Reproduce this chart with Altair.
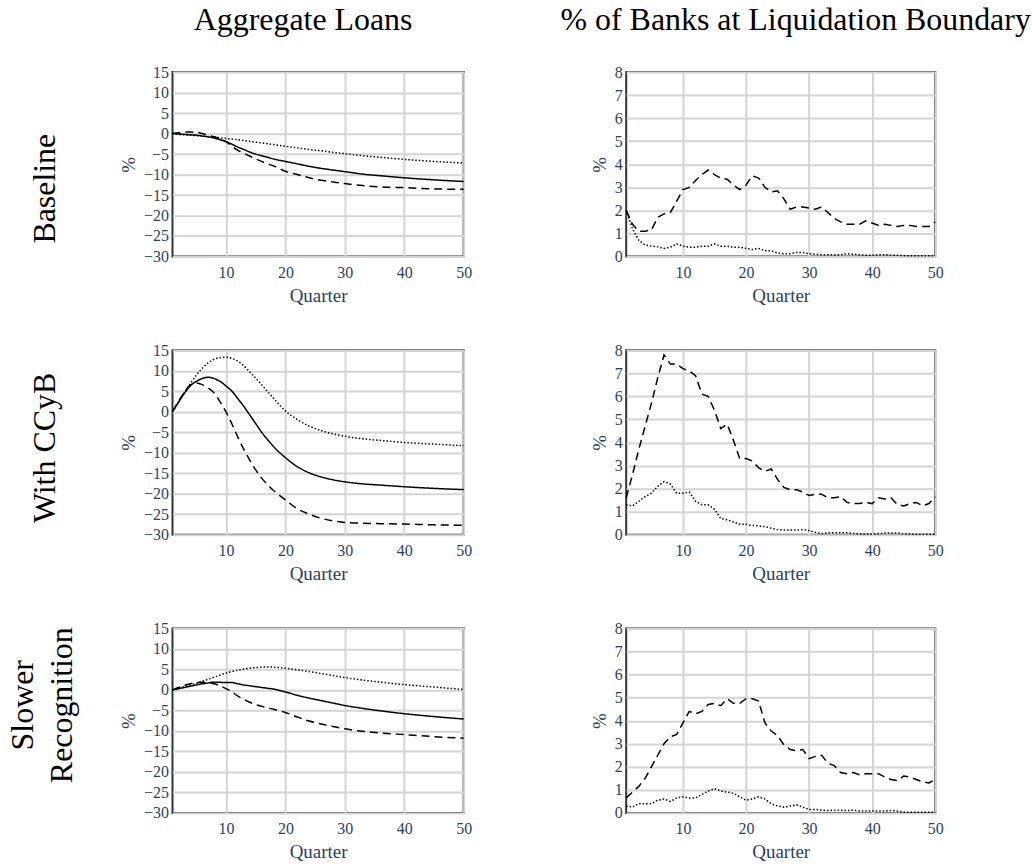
import altair as alt
import pandas as pd

FONT = "Liberation Serif"
LABEL_COLOR = "#2a3f5f"

series_names = ["Series 1", "Series 2", "Series 3"]

# x values
quarters = list(range(1, 51))
quarters_smooth = [1, 2, 3, 4, 5, 6, 7, 8, 9, 10, 11, 12, 13, 14, 15, 16, 17, 18,
                   20, 22, 24, 26, 28, 30, 33, 36, 40, 45, 50]

# tick labels
x_ticks = [10, 20, 30, 40, 50]
loans_ticks = [-30, -25, -20, -15, -10, -5, 0, 5, 10, 15]
liq_ticks = [0, 1, 2, 3, 4, 5, 6, 7, 8]

# ---- Aggregate loans (%) ----
base_loans_s1 = [0, -0.1, -0.2, -0.3, -0.4, -0.6, -0.8, -1.1, -1.5, -2.0, -2.6, -3.3, -3.9, -4.5,
                 -5.0, -5.4, -5.8, -6.2, -6.8, -7.4, -8.0, -8.5, -8.9, -9.3, -9.9, -10.3, -10.8,
                 -11.3, -11.7]
base_loans_s2 = [0, 0.2, 0.35, 0.35, 0.3, 0.0, -0.4, -0.8, -1.3, -2.0, -3.1, -4.1, -4.8, -5.5,
                 -6.2, -6.8, -7.4, -7.9, -9.2, -10.0, -10.8, -11.4, -11.8, -12.2, -12.7, -13.0,
                 -13.2, -13.5, -13.6]
base_loans_s3 = [0, -0.2, -0.3, -0.4, -0.5, -0.6, -0.75, -0.9, -1.05, -1.2, -1.35, -1.5, -1.7,
                 -1.9, -2.1, -2.3, -2.5, -2.7, -3.1, -3.5, -3.9, -4.2, -4.6, -4.9, -5.4, -5.8,
                 -6.3, -6.8, -7.2]

ccyb_loans_s1 = [0, 2.3, 4.5, 6.3, 7.4, 8.1, 8.4, 8.1, 7.4, 6.3, 5.0, 3.2, 1.3, -0.8, -2.9, -5.0,
                 -6.8, -8.5, -11.2, -13.4, -14.9, -15.9, -16.6, -17.1, -17.6, -17.9, -18.3,
                 -18.7, -19.0]
ccyb_loans_s2 = [0, 2.5, 4.8, 6.5, 7.0, 6.6, 5.8, 4.6, 2.4, 0.0, -3.0, -6.2, -9.2, -11.8, -14.2,
                 -16.2, -17.8, -19.2, -21.5, -23.7, -25.0, -26.0, -26.6, -27.0, -27.2, -27.3,
                 -27.4, -27.6, -27.7]
ccyb_loans_s3 = [0, 2.4, 4.7, 6.9, 8.9, 10.6, 11.9, 12.8, 13.2, 13.3, 13.0, 12.3, 11.2, 9.7, 8.2,
                 6.6, 4.9, 3.3, 0.2, -1.9, -3.5, -4.6, -5.4, -6.0, -6.6, -7.0, -7.5, -7.9, -8.3]

slow_loans_s1 = [0, 0.3, 0.6, 0.9, 1.2, 1.5, 1.7, 1.9, 1.85, 1.8, 1.8, 1.5, 1.2, 1.0, 0.8, 0.6,
                 0.4, 0.2, -0.5, -1.3, -2.0, -2.6, -3.2, -3.8, -4.5, -5.1, -5.8, -6.5, -7.1]
slow_loans_s2 = [0, 0.6, 1.1, 1.5, 1.8, 1.9, 1.8, 1.5, 1.0, 0.3, -0.5, -1.5, -2.3, -3.0, -3.6,
                 -4.0, -4.4, -4.7, -5.5, -6.6, -7.6, -8.3, -8.9, -9.5, -10.1, -10.5, -10.9,
                 -11.4, -11.8]
slow_loans_s3 = [0, 0.4, 0.8, 1.2, 1.6, 2.1, 2.6, 3.1, 3.6, 4.1, 4.5, 4.8, 5.1, 5.3, 5.45, 5.55,
                 5.6, 5.55, 5.3, 4.9, 4.5, 4.0, 3.5, 3.0, 2.4, 1.9, 1.3, 0.7, 0.1]

# ---- % of banks at liquidation boundary ----
base_liq_s2 = [2.0, 1.4, 1.1, 1.1, 1.15, 1.7, 1.85, 1.9, 2.4, 2.9,
               3.0, 3.3, 3.55, 3.75, 3.55, 3.4, 3.35, 3.1, 2.9, 3.1,
               3.5, 3.4, 3.0, 2.8, 2.85, 2.5, 2.05, 2.15, 2.15, 2.1,
               2.05, 2.15, 1.9, 1.65, 1.5, 1.4, 1.4, 1.4, 1.55, 1.45,
               1.35, 1.4, 1.35, 1.3, 1.35, 1.35, 1.3, 1.3, 1.3, 1.5]
base_liq_s3 = [2.0, 1.2, 0.7, 0.5, 0.45, 0.42, 0.35, 0.4, 0.55, 0.45,
               0.4, 0.4, 0.45, 0.45, 0.55, 0.45, 0.45, 0.4, 0.4, 0.35,
               0.3, 0.35, 0.25, 0.25, 0.15, 0.12, 0.12, 0.18, 0.17, 0.12,
               0.1, 0.08, 0.08, 0.07, 0.08, 0.12, 0.1, 0.08, 0.05, 0.05,
               0.08, 0.08, 0.06, 0.05, 0.04, 0.03, 0.03, 0.03, 0.03, 0.03]

ccyb_liq_s2 = [1.6, 2.6, 3.7, 4.7, 5.7, 6.8, 7.8, 7.4, 7.4, 7.2,
               7.1, 6.9, 6.1, 6.0, 5.4, 4.6, 4.8, 4.1, 3.3, 3.3,
               3.2, 2.9, 2.75, 2.85, 2.4, 2.05, 1.95, 1.95, 1.85, 1.7,
               1.75, 1.75, 1.6, 1.6, 1.65, 1.4, 1.35, 1.35, 1.4, 1.35,
               1.6, 1.55, 1.6, 1.3, 1.25, 1.35, 1.4, 1.25, 1.35, 1.65]
ccyb_liq_s3 = [1.3, 1.25, 1.45, 1.65, 1.8, 2.1, 2.3, 2.2, 1.8, 1.8,
               1.85, 1.45, 1.3, 1.3, 1.1, 0.7, 0.65, 0.55, 0.45, 0.45,
               0.4, 0.38, 0.35, 0.28, 0.22, 0.2, 0.2, 0.2, 0.22, 0.18,
               0.1, 0.05, 0.08, 0.08, 0.08, 0.08, 0.06, 0.04, 0.03, 0.03,
               0.05, 0.07, 0.07, 0.07, 0.04, 0.03, 0.02, 0.02, 0.02, 0.02]

slow_liq_s2 = [0.65, 0.9, 1.15, 1.5, 2.0, 2.5, 3.0, 3.3, 3.4, 3.9,
               4.4, 4.3, 4.4, 4.7, 4.75, 4.65, 4.95, 4.75, 4.75, 4.95,
               4.95, 4.85, 3.9, 3.55, 3.35, 2.95, 2.75, 2.7, 2.75, 2.35,
               2.45, 2.5, 2.15, 2.05, 1.75, 1.7, 1.75, 1.65, 1.7, 1.7,
               1.7, 1.55, 1.45, 1.4, 1.6, 1.55, 1.45, 1.35, 1.3, 1.45]
slow_liq_s3 = [0.3, 0.25, 0.4, 0.4, 0.4, 0.55, 0.6, 0.5, 0.65, 0.7,
               0.65, 0.65, 0.8, 0.95, 1.05, 0.95, 0.9, 0.85, 0.7, 0.55,
               0.6, 0.7, 0.6, 0.4, 0.3, 0.25, 0.3, 0.35, 0.25, 0.15,
               0.15, 0.12, 0.1, 0.12, 0.12, 0.1, 0.12, 0.08, 0.08, 0.08,
               0.08, 0.08, 0.1, 0.08, 0.03, 0.03, 0.03, 0.03, 0.03, 0.03]


def to_df(xs, named_series):
    rows = []
    for name, vals in named_series:
        for q, v in zip(xs, vals):
            rows.append({"quarter": q, "value": v, "series": name})
    return pd.DataFrame(rows)


dash_scale = alt.Scale(domain=series_names, range=[[1, 0], [8, 5], [1.5, 2]])
ONE = alt.Data(values=[{}])


def text_mark(text, x, y, angle=0, baseline="middle", size=32):
    kw = dict(text=text, font=FONT, fontSize=size, color="black", align="center",
              baseline=baseline)
    if angle:
        kw["angle"] = angle
    return alt.Chart(ONE).mark_text(**kw).encode(x=alt.value(x), y=alt.value(y))


def panel(df, ydomain, yticks, width, interp, extras=()):
    x = alt.X("quarter:Q",
              scale=alt.Scale(domain=[1, 50], nice=False, zero=False),
              axis=alt.Axis(values=x_ticks, title="Quarter", format="d"))
    y = alt.Y("value:Q",
              scale=alt.Scale(domain=ydomain, nice=False, zero=False),
              axis=alt.Axis(values=yticks, title="%", format="d"))
    lines = alt.Chart(df).mark_line(strokeWidth=1.5, color="black", interpolate=interp).encode(
        x=x, y=y,
        strokeDash=alt.StrokeDash("series:N", scale=dash_scale, legend=None),
        detail="series:N",
    )
    return alt.layer(lines, *extras).properties(width=width, height=185)


anchor = alt.Chart(ONE).mark_rule(opacity=0, strokeWidth=0).encode(
    x=alt.value(-172), x2=alt.value(-171), y=alt.value(-70), y2=alt.value(-69))

p11 = panel(
    to_df(quarters_smooth, zip(series_names, [base_loans_s1, base_loans_s2, base_loans_s3])),
    [-30, 15], loans_ticks, 292, "monotone",
    [anchor,
     text_mark("Aggregate Loans", 131, -42, baseline="alphabetic"),
     text_mark("Baseline", -128, 117, angle=270)])
p12 = panel(
    to_df(quarters, zip(series_names[1:], [base_liq_s2, base_liq_s3])),
    [0, 8], liq_ticks, 310, "linear",
    [text_mark("% of Banks at Liquidation Boundary", 170, -42, baseline="alphabetic")])
p21 = panel(
    to_df(quarters_smooth, zip(series_names, [ccyb_loans_s1, ccyb_loans_s2, ccyb_loans_s3])),
    [-30, 15], loans_ticks, 292, "monotone",
    [text_mark("With CCyB", -128, 98, angle=270)])
p22 = panel(
    to_df(quarters, zip(series_names[1:], [ccyb_liq_s2, ccyb_liq_s3])),
    [0, 8], liq_ticks, 310, "linear")
p31 = panel(
    to_df(quarters_smooth, zip(series_names, [slow_loans_s1, slow_loans_s2, slow_loans_s3])),
    [-30, 15], loans_ticks, 292, "monotone",
    [text_mark("Slower", -150, 77, angle=270),
     text_mark("Recognition", -111, 77, angle=270)])
p32 = panel(
    to_df(quarters, zip(series_names[1:], [slow_liq_s2, slow_liq_s3])),
    [0, 8], liq_ticks, 310, "linear")

chart = alt.concat(
    p11, p12, p21, p22, p31, p32,
    columns=2,
    spacing={"row": 94, "column": 163},
    bounds="flush",
).properties(
    padding=0,
).configure_axis(
    labelFont=FONT, labelFontSize=16, labelColor=LABEL_COLOR,
    titleFont=FONT, titleFontSize=19, titleFontWeight="normal", titleColor=LABEL_COLOR,
    gridColor="#d4d4d4", gridWidth=2, ticks=False, domain=False,
    labelFlush=False, labelOverlap=False,
).configure_axisX(
    labelPadding=8, titlePadding=6,
).configure_axisY(
    labelPadding=4, titlePadding=5,
).configure_view(
    stroke="#333", strokeWidth=2,
)

chart.save("out.html", embed_options={"renderer": "svg", "actions": False})
